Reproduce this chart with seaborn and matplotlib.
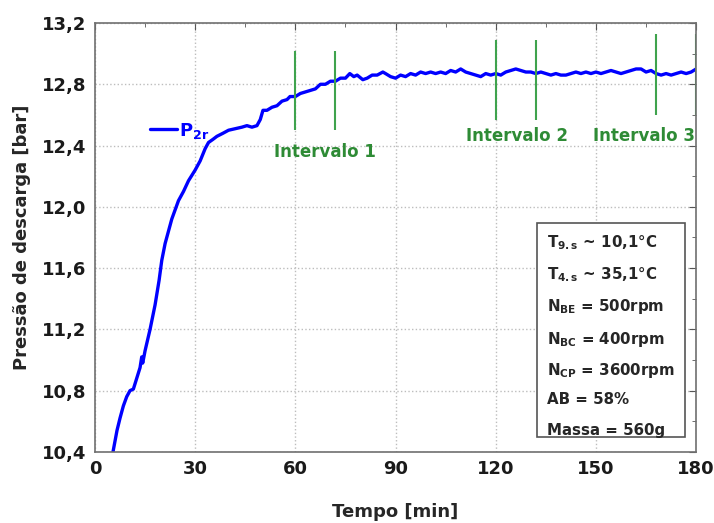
import numpy as np
import matplotlib
matplotlib.use('Agg')
import matplotlib.pyplot as plt
from matplotlib.patches import Rectangle
from matplotlib.ticker import FuncFormatter, MultipleLocator
import seaborn as sns

# rising part
t_rise = [5.4, 6.6, 7.5, 8.5, 9.5, 10.5, 11.5, 12.5, 13.5, 14.0, 14.3, 15.0, 16.5, 18.0,
          19.2, 20.0, 21.0, 22.0, 23.0, 24.0, 25.0, 26.5, 28.0, 30.0, 31.5, 33.0, 34.0,
          35.3, 36.5, 38.3, 40.0, 42.0, 44.0, 45.5, 47.0, 48.5, 49.5, 50.3, 51.5, 53.0,
          54.5, 56.0, 57.5, 58.4, 60.0, 61.5, 63.0, 64.5, 66.0, 67.5, 69.0, 70.5, 72.0,
          73.5, 75.0, 76.3, 77.5, 78.5, 80.2, 81.5, 83.0, 84.5, 86.2]
p_rise = [10.40, 10.54, 10.62, 10.70, 10.76, 10.80, 10.81, 10.88, 10.95, 11.02, 10.98, 11.06,
          11.20, 11.36, 11.52, 11.65, 11.76, 11.84, 11.92, 11.98, 12.04, 12.10, 12.17, 12.24,
          12.30, 12.38, 12.42, 12.44, 12.46, 12.48, 12.50, 12.51, 12.52, 12.53, 12.52, 12.53,
          12.57, 12.63, 12.63, 12.65, 12.66, 12.69, 12.70, 12.72, 12.72, 12.74, 12.75, 12.76,
          12.77, 12.80, 12.80, 12.82, 12.82, 12.84, 12.84, 12.87, 12.85, 12.86, 12.83, 12.84,
          12.86, 12.86, 12.88]
# plateau, sampled every 1.5 min
t_plat = list(np.arange(87.0, 180.01, 1.5))
p_plat = [12.87, 12.85, 12.84, 12.86, 12.85, 12.87, 12.86, 12.88, 12.87, 12.88,
          12.87, 12.88, 12.87, 12.89, 12.88, 12.90, 12.88, 12.87, 12.86, 12.85,
          12.87, 12.86, 12.87, 12.86, 12.88, 12.89, 12.90, 12.89, 12.88, 12.88,
          12.87, 12.88, 12.87, 12.86, 12.87, 12.86, 12.86, 12.87, 12.88, 12.87,
          12.88, 12.87, 12.88, 12.87, 12.88, 12.89, 12.88, 12.87, 12.88, 12.89,
          12.90, 12.90, 12.88, 12.89, 12.87, 12.86, 12.87, 12.86, 12.87, 12.88,
          12.87, 12.88, 12.90]

tempo = t_rise + t_plat
pressao = p_rise + p_plat

# interval markers
intervalos = ['Intervalo 1', 'Intervalo 2', 'Intervalo 3']
int_lines = [(60, 72), (120, 132), (168, 180)]
int_ymin = [12.50, 12.57, 12.60]
int_ymax = [13.02, 13.09, 13.13]
int_label_x = [69, 126.5, 164.3]
int_label_y = [12.36, 12.46, 12.46]

info = [r'T$_{9.s}$ ~ 10,1°C', r'T$_{4.s}$ ~ 35,1°C', r'N$_{BE}$ = 500rpm',
        r'N$_{BC}$ = 400rpm', r'N$_{CP}$ = 3600rpm', 'AB = 58%', 'Massa = 560g']

sns.set_style('white')
plt.rcParams['font.family'] = ['DejaVu Sans']
plt.rcParams['font.weight'] = 'bold'
plt.rcParams['mathtext.fontset'] = 'dejavusans'
plt.rcParams['mathtext.default'] = 'bf'

fig = plt.figure(figsize=(7.14, 5.23), dpi=100)
ax = fig.add_axes([0.133, 0.136, 0.842, 0.820])

sns.lineplot(x=tempo, y=pressao, color='#0000ff', lw=2.4, ax=ax, estimator=None,
             sort=False, label=r'P$_{2r}$')

green_line = '#3fa34d'
green_text = '#2e8b35'
for (a, b), y0, y1 in zip(int_lines, int_ymin, int_ymax):
    ax.vlines([a, b], y0, y1, color=green_line, lw=1.5)
for lab, x, y in zip(intervalos, int_label_x, int_label_y):
    ax.text(x, y, lab, color=green_text, fontsize=12, ha='center', va='center',
            fontweight='bold')

ax.set_xlim(0, 180)
ax.set_ylim(10.4, 13.2)
ax.xaxis.set_major_locator(MultipleLocator(30))
ax.xaxis.set_minor_locator(MultipleLocator(15))
ax.yaxis.set_major_locator(MultipleLocator(0.4))
ax.yaxis.set_minor_locator(MultipleLocator(0.2))
ax.yaxis.set_major_formatter(FuncFormatter(lambda v, _: f'{v:.1f}'.replace('.', ',')))
ax.tick_params(which='both', direction='in', top=True, right=True, color='#555555')
ax.tick_params(which='major', length=5, labelsize=13, pad=6, labelcolor='#1a1a1a')
ax.tick_params(which='minor', length=3)
ax.grid(True, which='major', ls=':', color='#bdbdbd', lw=1)
for s in ax.spines.values():
    s.set_color('#707070')
    s.set_linewidth(1.2)

ax.set_xlabel('Tempo [min]', fontsize=13, fontweight='bold', labelpad=18)
ax.set_ylabel('Pressão de descarga [bar]', fontsize=13, fontweight='bold', labelpad=8)

leg = ax.legend(loc='upper left', bbox_to_anchor=(0.065, 0.81), frameon=False,
                fontsize=13, handlelength=1.5, handletextpad=0.1)
for txt in leg.get_texts():
    txt.set_color('#0000ff')

ax.add_patch(Rectangle((0.735, 0.035), 0.247, 0.499, transform=ax.transAxes,
                       facecolor='white', edgecolor='#555555', lw=1.2, zorder=5))
ys = [0.487, 0.413, 0.338, 0.263, 0.189, 0.121, 0.051]
for s, y in zip(info, ys):
    ax.text(0.752, y, s, transform=ax.transAxes, fontsize=10.8, va='center', ha='left',
            fontweight='bold', zorder=6)

fig.savefig('out.png', dpi=100)
